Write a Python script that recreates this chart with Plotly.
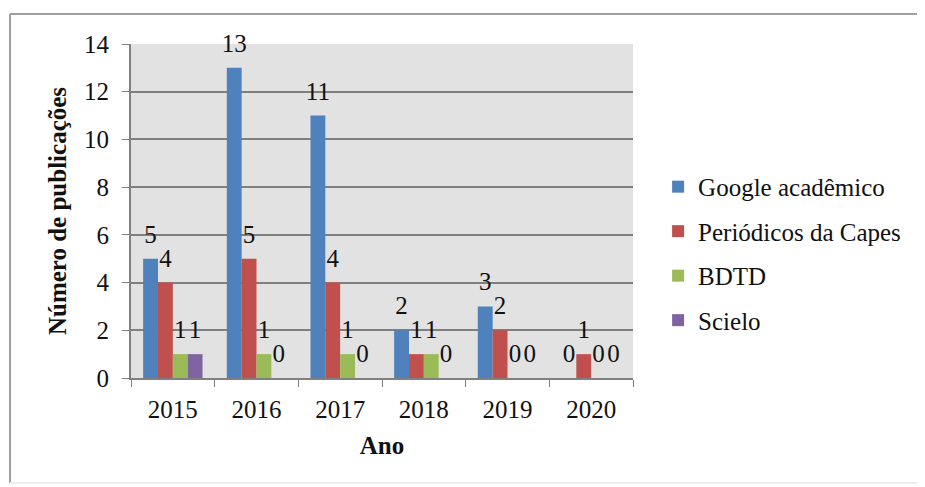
import plotly.graph_objects as go

anos = ["2015", "2016", "2017", "2018", "2019", "2020"]
google = [5, 13, 11, 2, 3, 0]
capes = [4, 5, 4, 1, 2, 1]
bdtd = [1, 1, 1, 1, 0, 0]
scielo = [1, 0, 0, 0, 0, 0]

series = [
    ("Google acadêmico", google, "#4F81BD"),
    ("Periódicos da Capes", capes, "#C0504D"),
    ("BDTD", bdtd, "#9BBB59"),
    ("Scielo", scielo, "#8064A2"),
]

FONT = "Liberation Serif"
GAP = 0.29
TXT = "#111111"

fig = go.Figure()
for i, (name, vals, color) in enumerate(series):
    fig.add_trace(go.Bar(
        x=anos, y=vals, name=name, marker=dict(color=color, line=dict(width=0)),
        legendgroup=name, offsetgroup=str(i),
    ))
for i, (name, vals, color) in enumerate(series):
    fig.add_trace(go.Scatter(
        x=anos, y=vals, mode="markers+text", text=[str(v) for v in vals],
        textposition="top center", textfont=dict(family=FONT, size=25, color=TXT),
        marker=dict(size=14, color="rgba(0,0,0,0)"), showlegend=False,
        hoverinfo="skip", offsetgroup=str(i), cliponaxis=False,
    ))

fig.update_layout(
    width=917, height=479,
    margin=dict(l=123, r=292, t=36, b=109),
    paper_bgcolor="white", plot_bgcolor="#e2e2e2",
    barmode="group", bargap=GAP, bargroupgap=0,
    scattermode="group", scattergap=GAP,
    font=dict(family=FONT, size=25, color=TXT),
    showlegend=True,
    legend=dict(x=1.05, xanchor="left", y=0.641, yanchor="top",
                font=dict(family=FONT, size=25, color=TXT), tracegroupgap=9,
                bgcolor="rgba(0,0,0,0)"),
    xaxis=dict(
        title=dict(text="<b>Ano</b>", standoff=14, font=dict(family=FONT, size=25, color=TXT)),
        tickson="boundaries", ticks="outside", ticklen=7, tickcolor="#808080",
        ticklabelstandoff=8,
        showline=True, linecolor="#808080", linewidth=2, showgrid=False,
        tickfont=dict(family=FONT, size=25, color=TXT),
    ),
    yaxis=dict(
        title=dict(text="<b>Número de publicações</b>", standoff=10,
                   font=dict(family=FONT, size=25, color=TXT)),
        range=[0, 14], dtick=2, ticks="outside", ticklen=7, tickcolor="#808080",
        ticklabelstandoff=8,
        showline=True, linecolor="#808080", linewidth=2,
        showgrid=True, gridcolor="#7f7f7f", gridwidth=2, zeroline=False,
        tickfont=dict(family=FONT, size=25, color=TXT),
    ),
    shapes=[
        dict(type="line", xref="paper", yref="paper", x0=-0.241, x1=1.6, y0=1.0898, y1=1.0898,
             line=dict(color="#a0a0a0", width=2)),
        dict(type="line", xref="paper", yref="paper", x0=-0.241, x1=-0.241, y0=-0.314, y1=1.0898,
             line=dict(color="#a0a0a0", width=2)),
        dict(type="line", xref="paper", yref="paper", x0=-0.241, x1=1.6, y0=-0.314, y1=-0.314,
             line=dict(color="#ececec", width=2)),
    ],
)

fig.write_html("out.html")
